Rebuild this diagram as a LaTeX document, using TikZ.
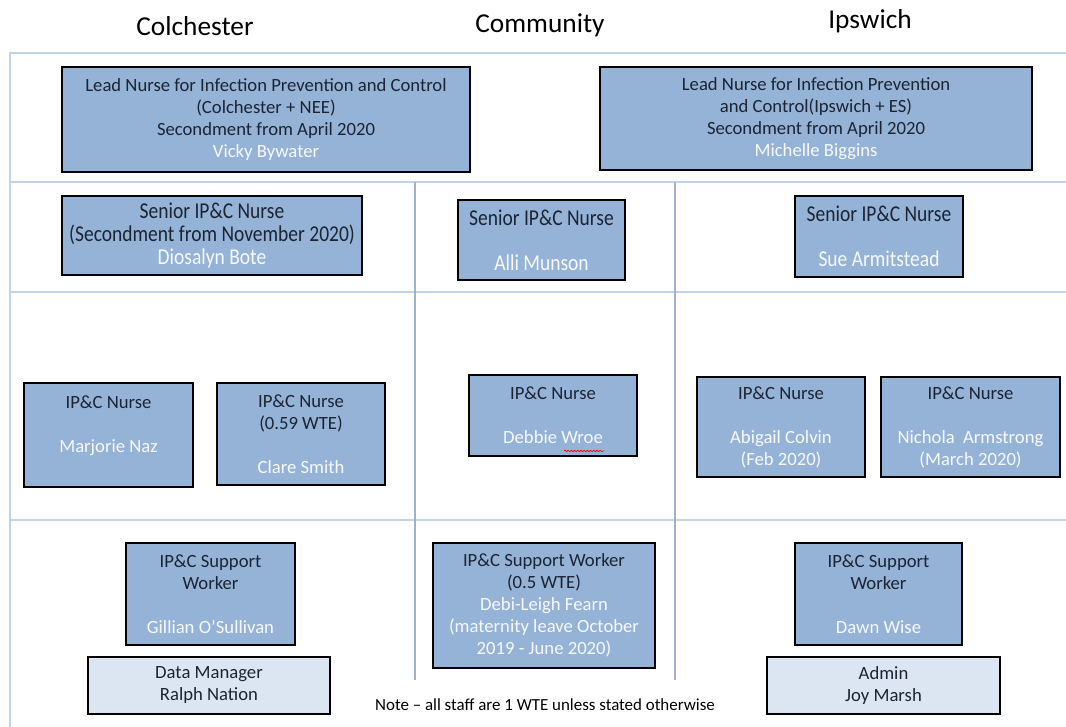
\documentclass[tikz,border=0pt]{standalone}
\usepackage{fontspec}
\setmainfont{Carlito}
\newfontfamily\narrowfont{Carlito}[FakeStretch=0.86]
\usepackage{tikz}
\usetikzlibrary{positioning,decorations.pathmorphing}
\definecolor{boxblue}{HTML}{95B3D7}
\definecolor{boxpale}{HTML}{DCE6F2}
\definecolor{gridblue}{HTML}{C3D4E8}
\definecolor{gridline}{HTML}{9CB3CF}
\definecolor{inktext}{HTML}{1C2433}
\definecolor{nametext}{HTML}{F7F9FC}
\tikzset{font=\fontsize{14}{16.5}\selectfont}
\tikzstyle{post}=[rectangle,draw=black,line width=2.2pt,fill=boxblue,text=inktext,align=center,inner sep=0pt]
\tikzstyle{postpale}=[post,fill=boxpale]
\tikzstyle{senior}=[post,font=\narrowfont\fontsize{17}{16.9}\selectfont]
\tikzstyle{site}=[font=\fontsize{20.5}{24}\selectfont,text=black,anchor=base]
\tikzstyle{grid}=[gridblue,line width=2.2pt]
\tikzstyle{divider}=[gridline,line width=0.9pt]
\newcommand{\who}[1]{\textcolor{nametext}{#1}}
\begin{document}
\begin{tikzpicture}[x=0.75pt,y=-0.75pt]
\useasboundingbox (0,0) rectangle (1066,727);
% table lines
\draw[grid] (1066,53) -- (10,53) -- (10,727);
\draw[grid] (10,182) -- (1066,182);
\draw[grid] (10,292) -- (1066,292);
\draw[grid] (10,520) -- (1066,520);
\draw[divider] (415,182) -- (415,680);
\draw[divider] (675,182) -- (675,680);
% column heads
\node[site] (colchester) at (195,36) {Colchester};
\node[site] (community) at (540,33) {Community};
\node[site] (ipswich) at (870,29) {Ipswich};
% lead nurses
\node[post,minimum width=306pt,minimum height=78.75pt] (leadC) at (266,119.5)
  {Lead Nurse for Infection Prevention and Control\\(Colchester + NEE)\\Secondment from April 2020\\\who{Vicky Bywater}};
\node[post,minimum width=324pt,minimum height=77.25pt] (leadI) at (816,118.5)
  {Lead Nurse for Infection Prevention\\and Control(Ipswich + ES)\\Secondment from April 2020\\\who{Michelle Biggins}};
% senior nurses
\node[senior,minimum width=225pt,minimum height=59.25pt] (seniorC) at (212,235.5)
  {Senior IP\&C Nurse\\(Secondment from November 2020)\\\who{Diosalyn Bote}};
\node[senior,minimum width=125.25pt,minimum height=60pt] (seniorM) at (541.5,240)
  {Senior IP\&C Nurse\\[16.9pt]\who{Alli Munson}};
\node[senior,minimum width=126pt,minimum height=60.75pt] (seniorI) at (879,236.5)
  {Senior IP\&C Nurse\\[16.9pt]\who{Sue Armitstead}};
% nurses
\node[post,minimum width=126.75pt,minimum height=78pt] (nurseMN) at (108.5,435)
  {IP\&C Nurse\\[16.5pt]\who{Marjorie Naz}\\\mbox{}};
\node[post,minimum width=126pt,minimum height=76.5pt] (nurseCS) at (301,434)
  {IP\&C Nurse\\(0.59 WTE)\\[16.5pt]\who{Clare Smith}};
\node[post,minimum width=126pt,minimum height=60.75pt] (nurseDW) at (553,415.5)
  {IP\&C Nurse\\[16.5pt]\who{Debbie Wroe}};
\node[post,minimum width=126pt,minimum height=75pt] (nurseAC) at (781,427)
  {IP\&C Nurse\\[16.5pt]\who{Abigail Colvin}\\\who{(Feb 2020)}};
\node[post,minimum width=134.25pt,minimum height=75pt] (nurseNA) at (970.5,427)
  {IP\&C Nurse\\[16.5pt]\who{Nichola\ \ Armstrong}\\\who{(March 2020)}};
\draw[red,line width=0.5pt,decorate,decoration={snake,amplitude=0.6pt,segment length=2.4pt}]
  (564,451) -- (604,451);
% support workers
\node[post,minimum width=126.75pt,minimum height=76.5pt] (supportC) at (210.5,594)
  {IP\&C Support\\Worker\\[16.5pt]\who{Gillian O’Sullivan}};
\node[post,minimum width=166.5pt,minimum height=93.75pt] (supportM) at (544,605.5)
  {IP\&C Support Worker\\(0.5 WTE)\\\who{Debi-Leigh Fearn}\\\who{(maternity leave October}\\\who{2019 - June 2020)}};
\node[post,minimum width=125.25pt,minimum height=76.5pt] (supportI) at (878.5,594)
  {IP\&C Support\\Worker\\[16.5pt]\who{Dawn Wise}};
% admin
\node[postpale,minimum width=181.5pt,minimum height=42.75pt] (data) at (209,685.5)
  {Data Manager\\Ralph Nation};
\node[postpale,minimum width=174.75pt,minimum height=42.75pt] (admin) at (883.5,685.5)
  {Admin\\Joy Marsh};
\node[font=\fontsize{12.7}{15}\selectfont,text=black] (note) at (545,705)
  {Note -- all staff are 1 WTE unless stated otherwise};
\end{tikzpicture}
\end{document}
